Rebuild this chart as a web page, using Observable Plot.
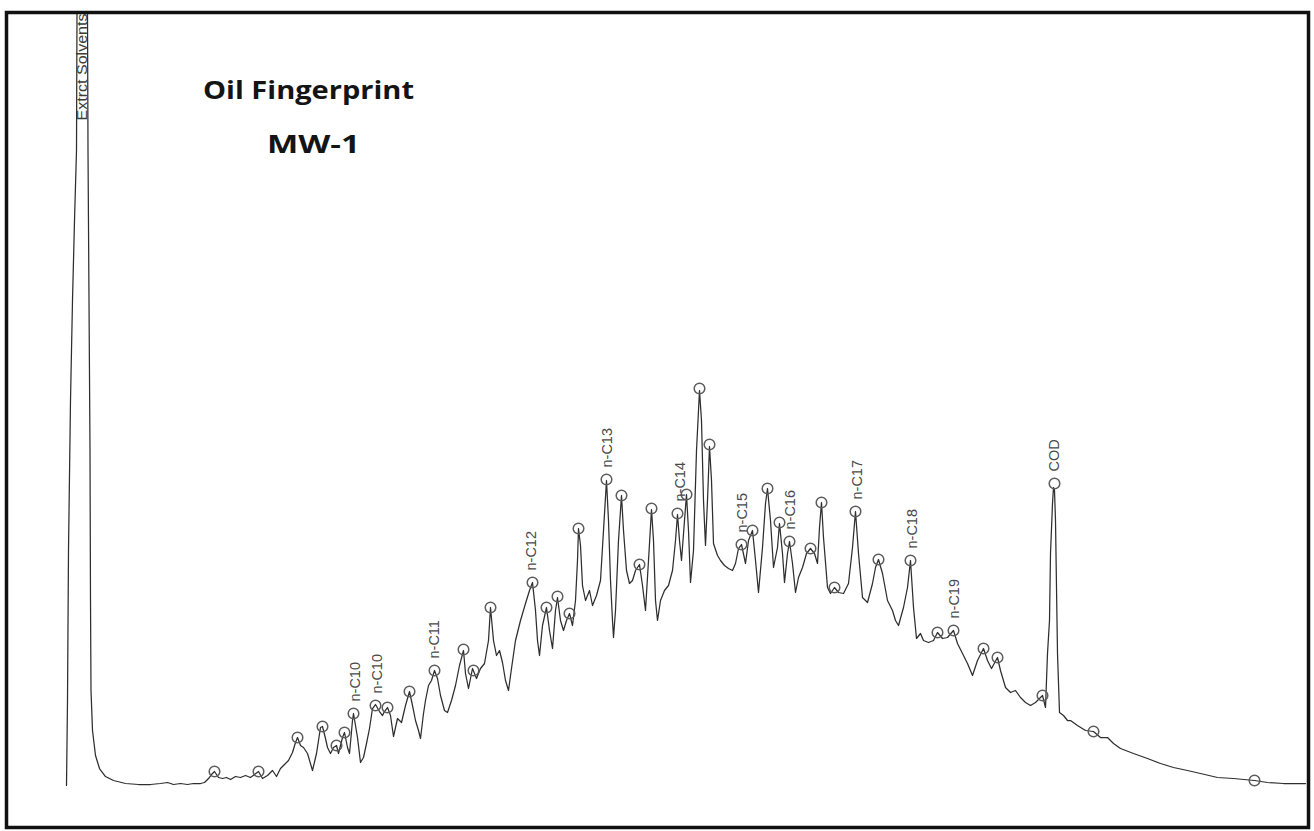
<!DOCTYPE html>
<html>
<head>
<meta charset="utf-8">
<script src="https://cdn.jsdelivr.net/npm/d3@7"></script>
<script src="https://cdn.jsdelivr.net/npm/@observablehq/plot@0.6"></script>
<style>
  html, body { margin: 0; padding: 0; background: #fff; }
  #chart svg { display: block; }
</style>
</head>
<body>
<div id="chart"></div>
<script>
// Chromatogram trace: [scan, response]
const trace = [[66,-2],[67,83],[68,233],[70,383],[72,483],[74,563],[76,633],[76.5,771],[81,1183],[87,771],[87.5,633],[88.5,483],[89.5,333],[90,183],[90.5,93],[92,53],[95,28],[99,15],[105,7],[113,3],[125,0],[138,-1],[150,-1],[160,0],[167,1],[173,-1],[180,0],[187,-1],[193,0],[200,0],[204,1],[208,5],[211,9],[214,12],[218,6],[222,5],[226,6],[230,4],[235,7],[240,6],[245,8],[250,6],[254,9],[258,12],[262,5],[267,8],[272,13],[276,7],[280,15],[284,19],[288,23],[292,31],[295,41],[297,46],[300,38],[303,36],[307,30],[312,13],[316,30],[320,56],[322,57],[325,45],[327,36],[330,30],[333,36],[336,38],[338,30],[342,46],[344,51],[347,36],[349,30],[352,63],[353,70],[355,58],[357,46],[360,21],[363,26],[366,40],[369,55],[372,75],[375,79],[379,72],[382,68],[384,72],[387,76],[390,68],[393,47],[397,65],[401,61],[405,78],[409,92],[412,78],[415,63],[418,53],[420,45],[423,70],[425,83],[428,98],[431,103],[434,113],[437,105],[440,88],[444,73],[447,71],[451,83],[455,98],[459,118],[463,133],[465,110],[468,95],[472,115],[476,105],[480,115],[484,120],[488,143],[490,176],[493,143],[496,128],[499,133],[502,121],[505,103],[508,93],[511,115],[515,143],[520,163],[525,180],[529,193],[532,201],[535,173],[537,143],[539,128],[542,158],[546,176],[549,153],[552,135],[555,173],[557,186],[560,163],[563,153],[566,163],[569,170],[572,158],[575,183],[577,223],[578,255],[580,238],[582,198],[585,183],[589,193],[592,178],[596,188],[600,203],[603,253],[606,303],[608,263],[610,203],[612,163],[613,146],[615,173],[618,243],[621,288],[623,253],[626,213],[629,200],[632,203],[635,213],[639,219],[642,198],[645,173],[648,223],[651,274],[653,243],[655,183],[657,163],[660,183],[664,193],[668,198],[672,213],[675,243],[677,269],[679,243],[681,223],[684,263],[686,289],[688,253],[690,201],[693,233],[696,333],[699,393],[701,363],[703,283],[705,238],[707,283],[709,337],[711,303],[713,240],[717,228],[720,223],[724,218],[728,215],[732,213],[735,220],[738,235],[741,239],[745,220],[748,243],[752,253],[755,223],[758,191],[762,236],[765,280],[767,295],[770,263],[773,216],[777,236],[779,260],[782,230],[784,201],[787,230],[789,242],[792,220],[795,191],[798,206],[802,216],[806,230],[810,235],[814,230],[817,220],[819,256],[821,281],[823,246],[827,196],[830,190],[834,196],[838,191],[843,190],[848,200],[852,236],[855,272],[858,230],[862,186],[867,181],[872,200],[875,216],[878,224],[882,210],[887,183],[892,173],[895,163],[898,158],[903,176],[907,196],[910,223],[913,176],[916,145],[920,150],[923,143],[928,141],[933,143],[937,151],[942,145],[947,146],[953,153],[957,140],[962,130],[967,120],[972,108],[977,123],[983,135],[987,123],[991,115],[997,126],[1000,113],[1005,96],[1010,91],[1015,93],[1020,86],[1025,81],[1030,78],[1035,81],[1042,88],[1045,76],[1047,130],[1049,163],[1050,230],[1052,280],[1053,296],[1054,293],[1055,263],[1056,196],[1057,130],[1059,71],[1063,68],[1067,63],[1070,63],[1077,58],[1085,53],[1093,52],[1100,46],[1107,46],[1113,40],[1120,35],[1133,30],[1147,25],[1160,20],[1173,16],[1187,13],[1200,10],[1217,6],[1233,5],[1254,3],[1267,1],[1283,0],[1305,0]];

// Integrated peak markers: [scan, response]
const peaks = [[214,12],[258,12],[297,46],[322,57],[336,38],[344,51],[353,70],[375,78],[387,76],[409,92],[434,113],[463,134],[473,113],[490,176],[532,201],[546,176],[557,187],[569,170],[578,255],[606,304],[621,288],[639,219],[651,275],[677,270],[686,289],[699,395],[709,339],[741,239],[752,253],[767,295],[779,261],[789,242],[810,235],[821,281],[834,196],[855,272],[878,224],[910,223],[937,151],[953,153],[983,135],[997,126],[1042,88],[1054,300],[1093,52],[1254,3]];

// Peak labels
const labelNames = ["n-C10","n-C10","n-C11","n-C12","n-C13","n-C14","n-C15","n-C16","n-C17","n-C18","n-C19","COD"];
const labelScan  = [355, 377, 434, 531, 607, 680, 742, 790, 857, 912, 954, 1054];
const labelResp  = [70, 78, 113, 201, 304, 270, 239, 242, 272, 223, 153, 300];

const solventName = ["Extrct Solvents"];
const solventScan = [81];

const titleLines = ["Oil Fingerprint", "MW-1"];

const labels = labelNames.map((t, i) => ({t, x: labelScan[i], y: labelResp[i]}));

const chart = Plot.plot({
  width: 1314,
  height: 831,
  marginTop: 12,
  marginBottom: 4,
  marginLeft: 6,
  marginRight: 6,
  x: {domain: [6, 1308], axis: null},
  y: {domain: [-44, 771], axis: null},
  style: {background: "#fff"},
  marks: [
    Plot.line(trace, {x: d => d[0], y: d => d[1], stroke: "#2e2e2e", strokeWidth: 1.25, clip: true}),
    Plot.dot(peaks, {x: d => d[0], y: d => d[1], r: 5.3, stroke: "#5c5c5c", strokeWidth: 1.5, fill: "none"}),
    Plot.text(labels, {x: "x", y: "y", text: "t", rotate: -90, textAnchor: "start", dy: -12,
      fontFamily: "Liberation Sans, Arial, sans-serif", fontSize: 14.5, fill: "#4a4a4a"}),
    Plot.text(solventName, {x: solventScan, text: d => d, frameAnchor: "top", rotate: -90, textAnchor: "start",
      dx: -4, dy: 108, fontFamily: "Liberation Sans, Arial, sans-serif", fontSize: 14, fill: "#3e3e30", clip: true}),
    Plot.text([titleLines[0]], {frameAnchor: "top-left", dx: 302, dy: 86, text: d => d, textAnchor: "middle",
      lineAnchor: "bottom", fontFamily: "Open Sans, Lato, sans-serif", fontWeight: "bold", fontSize: 25, fill: "#141414"}),
    Plot.text([titleLines[1]], {frameAnchor: "top-left", dx: 307, dy: 140, text: d => d, textAnchor: "middle",
      lineAnchor: "bottom", fontFamily: "Open Sans, Lato, sans-serif", fontWeight: "bold", fontSize: 25, fill: "#141414"}),
    Plot.frame({stroke: "#111", strokeWidth: 3.5})
  ]
});

document.getElementById("chart").appendChild(chart);

// stretch glyphs to the widths seen in the reference
const stretch = {"Oil Fingerprint": 211, "MW-1": 93, "Extrct Solvents": 107};
d3.select(chart).selectAll("text").each(function() {
  const t = this.textContent;
  if (stretch[t] && this.childElementCount === 0) {
    this.setAttribute("textLength", stretch[t]);
    this.setAttribute("lengthAdjust", "spacingAndGlyphs");
  }
});
</script>
</body>
</html>
